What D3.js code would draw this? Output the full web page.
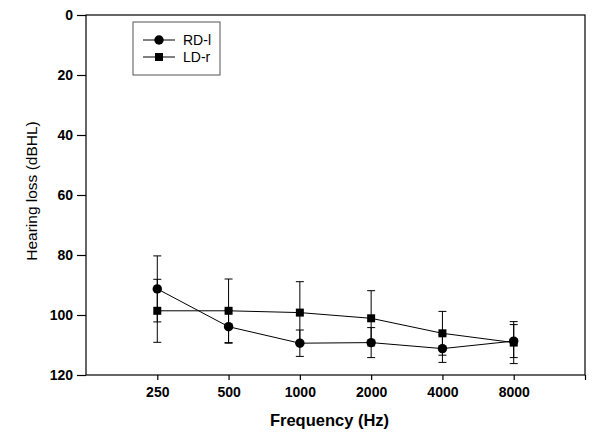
<!DOCTYPE html>
<html>
<head>
<meta charset="utf-8">
<script src="https://cdn.jsdelivr.net/npm/d3@7"></script>
<style>
  body { margin: 0; background: #fff; }
  text { font-family: Arial, "Liberation Sans", sans-serif; }
</style>
</head>
<body>
<div class="chart"></div>
<script>
var frequencies = [250, 500, 1000, 2000, 4000, 8000];
var rdMean = [91.3, 103.9, 109.4, 109.2, 111.2, 108.7];
var rdErr = [11, 5.5, 4.4, 5, 4.6, 5.5];
var ldMean = [98.6, 98.6, 99.2, 101.1, 106.1, 109.2];
var ldErr = [10.5, 10.6, 10.3, 9.2, 7.3, 7];
var yTicks = [0, 20, 40, 60, 80, 100, 120];
var seriesNames = ["RD-l", "LD-r"];

var margin = {top: 15, right: 15, bottom: 73, left: 86},
    width = 600 - margin.left - margin.right,
    height = 448 - margin.top - margin.bottom;

var x = d3.scaleLog().base(2)
          .domain([125, 16000])
          .range([0, width]);
var y = d3.scaleLinear()
          .domain([0, 120])
          .range([0, height]);

var svg = d3.select(".chart").append("svg")
    .attr("width", 600)
    .attr("height", 448)
  .append("g")
    .attr("transform", "translate(" + margin.left + "," + margin.top + ")");

// frame
svg.append("rect")
    .attr("width", width)
    .attr("height", height)
    .attr("fill", "none")
    .attr("stroke", "#000")
    .attr("stroke-width", 1.2);

var xAxis = svg.append("g")
    .attr("transform", "translate(0," + height + ")")
    .call(d3.axisBottom(x).tickValues(frequencies.concat([16000])).tickSize(5).tickPadding(7)
      .tickFormat(function(d) { return d === 16000 ? "" : d; }));
var yAxis = svg.append("g")
    .call(d3.axisLeft(y).tickValues(yTicks).tickSize(9).tickPadding(4));

[xAxis, yAxis].forEach(function(g) {
  g.select(".domain").remove();
  g.selectAll("line").attr("stroke-width", 1.2);
  g.selectAll("text").attr("font-size", 14).attr("font-weight", "bold")
    .attr("font-family", "Arial, 'Liberation Sans', sans-serif").attr("fill", "#000");
});

svg.append("text")
    .attr("x", width / 2 - 6)
    .attr("y", height + 51)
    .attr("text-anchor", "middle")
    .attr("font-size", 16.5)
    .attr("font-weight", "bold")
    .text("Frequency (Hz)");

svg.append("text")
    .attr("transform", "translate(-49," + (height / 2 - 4) + ") rotate(-90)")
    .attr("text-anchor", "middle")
    .attr("font-size", 15.5)
    .text("Hearing loss (dBHL)");

var series = [
  {name: seriesNames[0], mean: rdMean, err: rdErr, shape: d3.symbolCircle, size: 70},
  {name: seriesNames[1], mean: ldMean, err: ldErr, shape: d3.symbolSquare, size: 64}
];

series.forEach(function(s) {
  var pts = frequencies.map(function(f, i) { return {f: f, m: s.mean[i], e: s.err[i]}; });

  var eb = svg.append("g").attr("stroke", "#000").attr("stroke-width", 1);
  pts.forEach(function(p) {
    eb.append("line").attr("x1", x(p.f)).attr("x2", x(p.f))
      .attr("y1", y(p.m - p.e)).attr("y2", y(p.m + p.e));
    [p.m - p.e, p.m + p.e].forEach(function(v) {
      eb.append("line").attr("x1", x(p.f) - 4).attr("x2", x(p.f) + 4)
        .attr("y1", y(v)).attr("y2", y(v));
    });
  });

  svg.append("path")
    .datum(pts)
    .attr("fill", "none")
    .attr("stroke", "#000")
    .attr("stroke-width", 1)
    .attr("d", d3.line().x(function(d) { return x(d.f); }).y(function(d) { return y(d.m); }));

  svg.selectAll(null)
    .data(pts)
    .enter().append("path")
      .attr("transform", function(d) { return "translate(" + x(d.f) + "," + y(d.m) + ")"; })
      .attr("d", d3.symbol().type(s.shape).size(s.size))
      .attr("fill", "#000");
});

// legend
var legend = svg.append("g").attr("transform", "translate(47,7)");
legend.append("rect")
    .attr("width", 87)
    .attr("height", 53)
    .attr("fill", "#fff")
    .attr("stroke", "#555")
    .attr("stroke-width", 1);
series.forEach(function(s, i) {
  var ly = 18 + i * 17;
  legend.append("line").attr("x1", 10).attr("x2", 42).attr("y1", ly).attr("y2", ly)
    .attr("stroke", "#000");
  legend.append("path").attr("transform", "translate(26," + ly + ")")
    .attr("d", d3.symbol().type(s.shape).size(s.size)).attr("fill", "#000");
  legend.append("text").attr("x", 50).attr("y", ly + 5)
    .attr("font-size", 14).text(s.name);
});
</script>
</body>
</html>
